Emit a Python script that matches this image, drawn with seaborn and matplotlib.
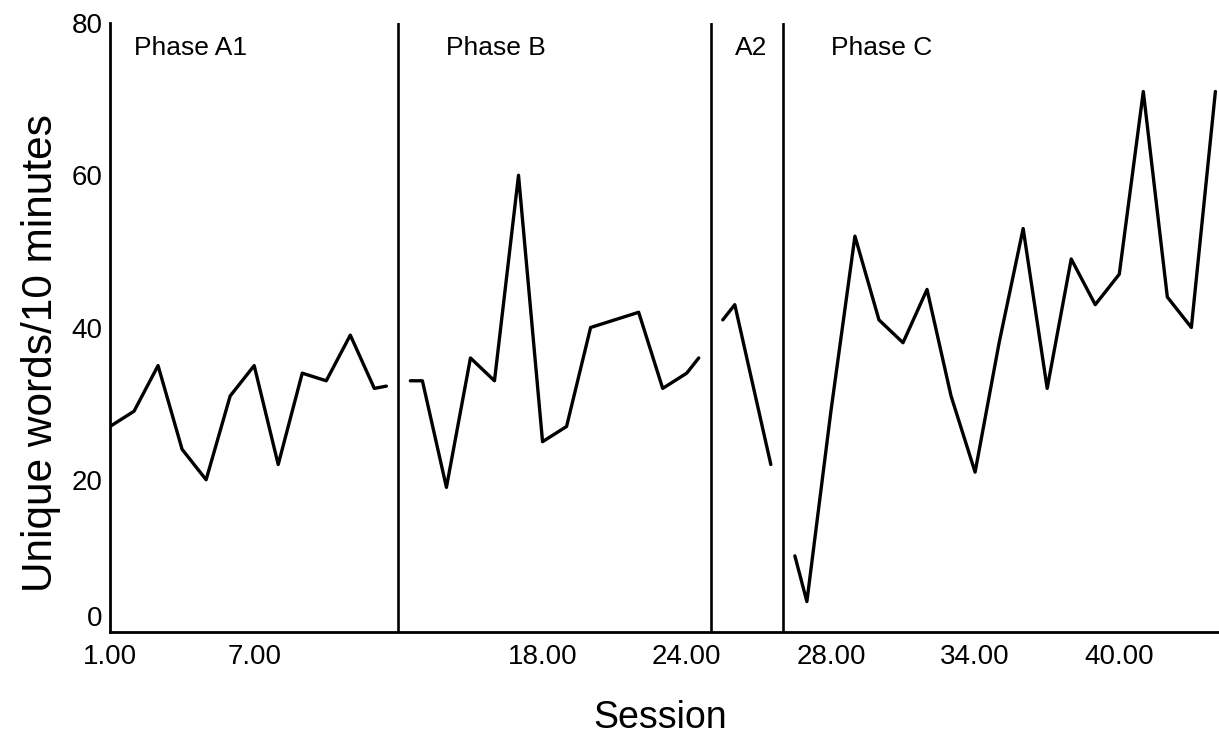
import matplotlib
matplotlib.use("Agg")
import matplotlib.pyplot as plt
import pandas as pd
import seaborn as sns

# slots along the time axis (gap rows at 12, 25, 28 hold the phase lines;
# half slots are the short stubs drawn toward each gap)
a1_slot = [0, 1, 2, 3, 4, 5, 6, 7, 8, 9, 10, 11, 11.5]
a1_words = [27, 29, 35, 24, 20, 31, 35, 22, 34, 33, 39, 32, 32.3]

b_slot = [12.5, 13, 14, 15, 16, 17, 18, 19, 20, 21, 22, 23, 24, 24.5]
b_words = [33, 33, 19, 36, 33, 60, 25, 27, 40, 41, 42, 32, 34, 36]

a2_slot = [25.5, 26, 27, 27.5]
a2_words = [41, 43, 29, 22]

c_slot = [28.5, 29, 30, 31, 32, 33, 34, 35, 36, 37, 38, 39, 40, 41, 42, 43, 44, 45, 46]
c_words = [10, 4, 29, 52, 41, 38, 45, 31, 21, 38, 53, 32, 49, 43, 47, 71, 44, 40, 71]

phase_breaks = [12, 25, 28]
phase_labels = ["Phase A1", "Phase B", "A2", "Phase C"]
phase_label_slot = [1, 14, 26, 30]

tick_slots = [0, 6, 18, 24, 30, 36, 42]
tick_labels = ["1.00", "7.00", "18.00", "24.00", "28.00", "34.00", "40.00"]
y_ticks = [0, 20, 40, 60, 80]

df = pd.concat(
    [
        pd.DataFrame({"slot": a1_slot, "words": a1_words, "phase": "A1"}),
        pd.DataFrame({"slot": b_slot, "words": b_words, "phase": "B"}),
        pd.DataFrame({"slot": a2_slot, "words": a2_words, "phase": "A2"}),
        pd.DataFrame({"slot": c_slot, "words": c_words, "phase": "C"}),
    ],
    ignore_index=True,
)

sns.set_theme(
    style="white",
    rc={
        "text.color": "black",
        "axes.labelcolor": "black",
        "xtick.color": "black",
        "ytick.color": "black",
    },
)
plt.rcParams["font.family"] = ["Liberation Sans", "DejaVu Sans"]

fig = plt.figure(figsize=(12.19, 7.47), dpi=100)
ax = fig.add_axes([110 / 1219, 1 - 632 / 747, 1 - 110 / 1219, 609 / 747])

sns.lineplot(
    data=df,
    x="slot",
    y="words",
    hue="phase",
    palette=["black"] * 4,
    estimator=None,
    sort=False,
    legend=False,
    linewidth=2.4,
    ax=ax,
)

for b in phase_breaks:
    ax.axvline(b, color="black", linewidth=1.9)

for lab, s in zip(phase_labels, phase_label_slot):
    ax.text(s, 76.7, lab, fontsize=19, ha="left", va="center", color="black")

ax.set_xlim(0, 46.15)
ax.set_ylim(0, 80)
ax.set_xticks(tick_slots)
ax.set_xticklabels(tick_labels)
ax.set_yticks(y_ticks)

ax.tick_params(axis="x", direction="out", length=3.5, width=5, labelsize=20, pad=5)
ax.tick_params(axis="y", direction="out", length=2.5, width=3.5, labelsize=20, pad=3)

# the "0" label sits above the corner, clear of "1.00"
ax.get_yticklabels()[0].set_verticalalignment("bottom")

sns.despine(ax=ax)
for side in ["left", "bottom"]:
    ax.spines[side].set_color("black")
    ax.spines[side].set_linewidth(2)

ax.set_xlabel("Session", fontsize=27)
ax.set_ylabel("Unique words/10 minutes", fontsize=30.5)
ax.xaxis.set_label_coords(0.496, -0.112)
ax.yaxis.set_label_coords(-0.044, 0.458)

fig.savefig("out.png", dpi=100)
